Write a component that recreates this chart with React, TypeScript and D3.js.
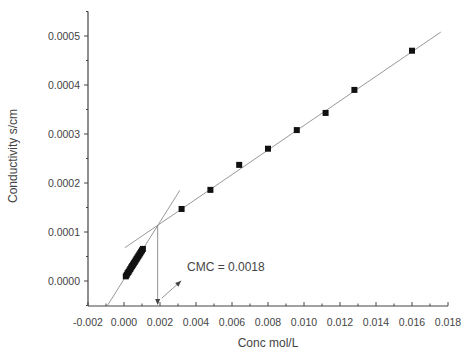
import React from "react";
import * as d3 from "d3";

// Data: low concentration branch (pre-CMC)
const lowX = [0.0001, 0.00015, 0.0002, 0.00025, 0.0003, 0.00035, 0.0004, 0.00045, 0.0005, 0.00055, 0.0006, 0.00065, 0.0007, 0.00075, 0.0008, 0.00085, 0.0009, 0.00095, 0.001, 0.00105];
const lowY = [0.0000095, 0.0000125, 0.000016, 0.0000185, 0.0000215, 0.0000245, 0.0000278, 0.0000305, 0.0000335, 0.0000362, 0.0000392, 0.000042, 0.0000452, 0.000048, 0.0000508, 0.0000538, 0.0000566, 0.0000598, 0.0000625, 0.0000655];
// High concentration branch (post-CMC)
const highX = [0.0032, 0.0048, 0.0064, 0.008, 0.0096, 0.0112, 0.0128, 0.016];
const highY = [0.000147, 0.000186, 0.000237, 0.00027, 0.000308, 0.000343, 0.00039, 0.00047];
// Fit lines (endpoints)
const fitLowX = [-0.00092, 0.0031];
const fitLowY = [-0.00005, 0.000185];
const fitHighX = [0.00005, 0.0176];
const fitHighY = [0.000068, 0.000508];
const cmcX = 0.00187;
const cmcY = 0.000114;
const cmcLabel = "CMC = 0.0018";

const xTicks = [-0.002, 0, 0.002, 0.004, 0.006, 0.008, 0.01, 0.012, 0.014, 0.016, 0.018];
const xMinor = [-0.001, 0.001, 0.003, 0.005, 0.007, 0.009, 0.011, 0.013, 0.015, 0.017];
const yTicks = [0, 0.0001, 0.0002, 0.0003, 0.0004, 0.0005];
const yMinor = [-0.00005, 0.00005, 0.00015, 0.00025, 0.00035, 0.00045, 0.00055];

export default function App() {
  const W = 464, H = 350;
  const x = d3.scaleLinear().domain([-0.002, 0.018]).range([88, 448]);
  const y = d3.scaleLinear().domain([-0.000051, 0.00055]).range([306, 11.5]);
  const axisColor = "#444";
  const textColor = "#444";
  const font = "Liberation Sans, Arial, sans-serif";
  const line = d3.line<[number, number]>().x(d => x(d[0])).y(d => y(d[1]));
  const fitLow: [number, number][] = fitLowX.map((v, i) => [v, fitLowY[i]]);
  const fitHigh: [number, number][] = fitHighX.map((v, i) => [v, fitHighY[i]]);
  const y0 = y.range()[0];
  const ms = 6;

  const arrowFrom: [number, number] = [0.0021, -0.000035];
  const arrowTo: [number, number] = [0.00318, 0.0000005];
  const ax1 = x(arrowFrom[0]), ay1 = y(arrowFrom[1]);
  const ax2 = x(arrowTo[0]), ay2 = y(arrowTo[1]);
  const ang = Math.atan2(ay2 - ay1, ax2 - ax1);
  const ah = 6, aw = 2.5;
  const head = (px: number, py: number, a: number) => {
    const bx = px - ah * Math.cos(a), by = py - ah * Math.sin(a);
    return `M${px},${py} L${bx - aw * Math.sin(a)},${by + aw * Math.cos(a)} L${bx + aw * Math.sin(a)},${by - aw * Math.cos(a)} Z`;
  };

  return (
    <svg width={W} height={H} style={{ position: "absolute", left: 0, top: 0, background: "#fff" }}>
      <rect width={W} height={H} fill="#fff" />
      {/* fit lines */}
      <path d={line(fitLow) || ""} stroke="#999" strokeWidth={1} fill="none" />
      <path d={line(fitHigh) || ""} stroke="#999" strokeWidth={1} fill="none" />
      {/* CMC vertical */}
      <line x1={x(cmcX)} x2={x(cmcX)} y1={y(cmcY)} y2={y0 - 2} stroke="#777" strokeWidth={0.8} />
      <path d={head(x(cmcX), y0 - 1, Math.PI / 2)} fill="#444" />
      {/* arrow */}
      <line x1={ax1} y1={ay1} x2={ax2} y2={ay2} stroke="#777" strokeWidth={0.8} />
      <path d={head(ax2, ay2, ang)} fill="#444" />
      <text x={x(0.0035)} y={y(0.000021)} fontFamily={font} fontSize={12} fill={textColor}>{cmcLabel}</text>
      {/* points */}
      {lowX.map((v, i) => (
        <rect key={"l" + i} x={x(v) - ms / 2} y={y(lowY[i]) - ms / 2} width={ms} height={ms} fill="#111" />
      ))}
      {highX.map((v, i) => (
        <rect key={"h" + i} x={x(v) - ms / 2} y={y(highY[i]) - ms / 2} width={ms} height={ms} fill="#111" />
      ))}
      {/* axes */}
      <line x1={x(-0.002)} x2={x(0.018)} y1={y0} y2={y0} stroke={axisColor} strokeWidth={1.2} />
      <line x1={x(-0.002)} x2={x(-0.002)} y1={y0} y2={y(0.00055)} stroke={axisColor} strokeWidth={1.2} />
      {xTicks.map(t => (
        <g key={"xt" + t}>
          <line x1={x(t)} x2={x(t)} y1={y0} y2={y0 - 4} stroke={axisColor} />
          <text x={x(t)} y={y0 + 20} textAnchor="middle" fontFamily={font} fontSize={10.5} fill={textColor}>
            {d3.format(".3f")(t).replace("−", "-")}
          </text>
        </g>
      ))}
      {xMinor.map(t => (
        <line key={"xm" + t} x1={x(t)} x2={x(t)} y1={y0} y2={y0 - 2.5} stroke={axisColor} />
      ))}
      {yTicks.map(t => (
        <g key={"yt" + t}>
          <line x1={x(-0.002) - 4} x2={x(-0.002)} y1={y(t)} y2={y(t)} stroke={axisColor} />
          <text x={x(-0.002) - 8} y={y(t) + 3.8} textAnchor="end" fontFamily={font} fontSize={10.5} fill={textColor}>
            {d3.format(".4f")(t)}
          </text>
        </g>
      ))}
      {yMinor.map(t => (
        <line key={"ym" + t} x1={x(-0.002) - 2} x2={x(-0.002)} y1={y(t)} y2={y(t)} stroke={axisColor} />
      ))}
      <text x={268} y={347} textAnchor="middle" fontFamily={font} fontSize={12} fill={textColor}>Conc mol/L</text>
      <text transform={`translate(17,156) rotate(-90)`} textAnchor="middle" fontFamily={font} fontSize={12} fill={textColor}>Conductivity s/cm</text>
    </svg>
  );
}
